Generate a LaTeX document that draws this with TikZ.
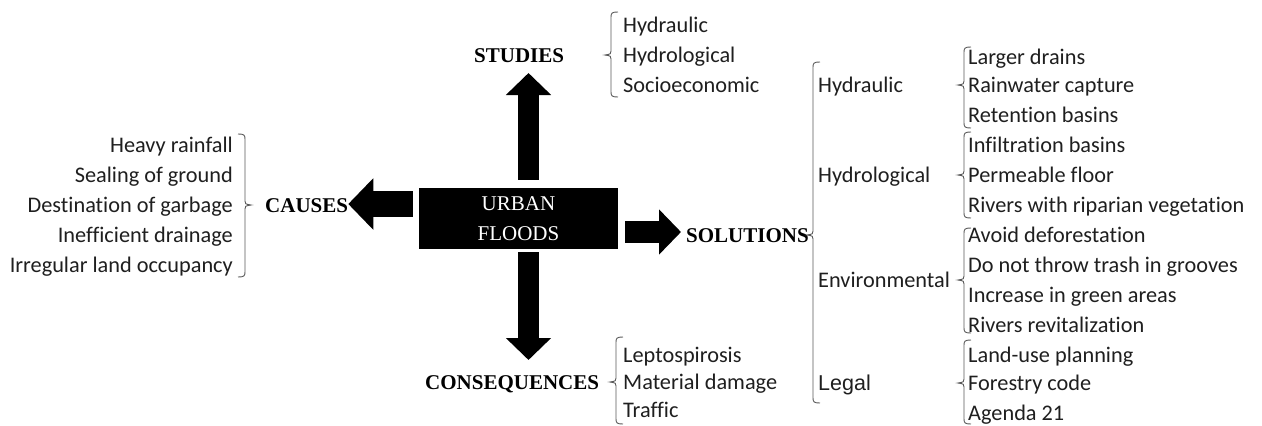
\documentclass[tikz,border=0pt]{standalone}
\usepackage{fontspec}
\setmainfont{Liberation Serif}
\newfontfamily\calfont[Ligatures={NoCommon}]{Carlito}
\newfontfamily\arialfont{Liberation Sans}
\usetikzlibrary{arrows.meta,calc}
\tikzset{
  txt/.style={inner sep=0pt, anchor=base west, font=\calfont\fontsize{22.3}{26}\selectfont, text=black!88},
  txtr/.style={txt, anchor=base east},
  lbl/.style={inner sep=0pt, anchor=base west, font=\bfseries\fontsize{21}{25}\selectfont},
  brk/.style={draw=black!65, line width=0.9pt},
  blkV/.style={line width=21pt, -{Triangle[length=22pt,width=44pt]}},
  blkL/.style={line width=26pt, -{Triangle[length=25pt,width=50pt]}},
  blkR/.style={line width=22pt, -{Triangle[length=22pt,width=44pt]}},
  centerbox/.style={fill=black, minimum width=199pt, minimum height=61pt, inner sep=0pt,
    text=white, align=center, font=\fontsize{21}{30}\selectfont},
}
% open brace "{" : x, top, mid, bottom
\newcommand{\BraceOpen}[4]{%
  \draw[brk] (#1+7,#2) .. controls (#1+1,#2) and (#1,#2+1) .. (#1,#2+5)
    -- (#1,#3-4) .. controls (#1,#3-1) .. (#1-6,#3)
    .. controls (#1,#3+1) .. (#1,#3+4)
    -- (#1,#4-5) .. controls (#1,#4-1) and (#1+1,#4) .. (#1+7,#4);}
% close brace "}"
\newcommand{\BraceClose}[4]{%
  \draw[brk] (#1-7,#2) .. controls (#1-1,#2) and (#1,#2+1) .. (#1,#2+5)
    -- (#1,#3-4) .. controls (#1,#3-1) .. (#1+6,#3)
    .. controls (#1,#3+1) .. (#1,#3+4)
    -- (#1,#4-5) .. controls (#1,#4-1) and (#1-1,#4) .. (#1-7,#4);}
\begin{document}
\begin{tikzpicture}[x=1pt,y=-1pt]
\useasboundingbox (0,0) rectangle (1262,426);
\fill[white] (0,0) rectangle (1262,426);

% central box
\node[centerbox] (box) at (518.5,218.5) {URBAN\\FLOODS};

% main labels
\node[lbl] (causes) at (265,212) {CAUSES};
\node[lbl] (studies) at (474,62) {STUDIES};
\node[lbl] (solutions) at (686,242) {SOLUTIONS};
\node[lbl] (conseq) at (425,389) {CONSEQUENCES};

% block arrows
\coordinate (upS) at ($(box.north)+(10,-8)$);
\coordinate (upT) at (528.5,73);
\draw[blkV] (upS) -- (upT);
\coordinate (dnS) at ($(box.south)+(10,3)$);
\coordinate (dnT) at (528.5,360);
\draw[blkV] (dnS) -- (dnT);
\coordinate (lS) at ($(box.west)+(-6,-14.5)$);
\draw[blkL] (lS) -- (lS -| causes.east);
\coordinate (rS) at ($(box.east)+(7,13.5)$);
\draw[blkR, shorten >=5pt] (rS) -- (rS -| solutions.west);

% causes
\node[txtr] (c1) at (233,152) {Heavy rainfall};
\node[txtr] (c2) at (233,182) {Sealing of ground};
\node[txtr] (c3) at (233,212) {Destination of garbage};
\node[txtr] (c4) at (233,242) {Inefficient drainage};
\node[txtr] (c5) at (233,272) {Irregular land occupancy};
\BraceClose{245}{134}{205}{277}

% studies
\node[txt] (s1) at (623,32) {Hydraulic};
\node[txt] (s2) at (623,62) {Hydrological};
\node[txt] (s3) at (623,92) {Socioeconomic};
\BraceOpen{611}{12}{55}{97}

% consequences
\node[txt] (q1) at (623,362) {Leptospirosis};
\node[txt] (q2) at (623,389) {Material damage};
\node[txt] (q3) at (623,417) {Traffic};
\BraceOpen{616}{337}{382}{424}

% solutions level 1
\BraceOpen{813}{62}{235}{403}
\node[txt] (h1) at (818,92) {Hydraulic};
\node[txt] (h2) at (818,182) {Hydrological};
\node[txt] (h3) at (818,287) {Environmental};
\node[txt, font=\arialfont\fontsize{21.5}{25}\selectfont] (h4) at (818,390) {Legal};

% solutions level 2
\BraceOpen{964}{47}{85}{128}
\node[txt] (a1) at (968,64) {Larger drains};
\node[txt] (a2) at (968,92) {Rainwater capture};
\node[txt] (a3) at (968,122) {Retention basins};
\BraceOpen{964}{132}{175}{218}
\node[txt] (b1) at (968,152) {Infiltration basins};
\node[txt] (b2) at (968,182) {Permeable floor};
\node[txt] (b3) at (968,212) {Rivers with riparian vegetation};
\BraceOpen{964}{228}{280}{333}
\node[txt] (e1) at (968,242) {Avoid deforestation};
\node[txt] (e2) at (968,272) {Do not throw trash in grooves};
\node[txt] (e3) at (968,302) {Increase in green areas};
\node[txt] (e4) at (968,332) {Rivers revitalization};
\BraceOpen{964}{340}{383}{424}
\node[txt] (l1) at (968,362) {Land-use planning};
\node[txt] (l2) at (968,390) {Forestry code};
\node[txt] (l3) at (968,420) {Agenda 21};
\end{tikzpicture}
\end{document}
